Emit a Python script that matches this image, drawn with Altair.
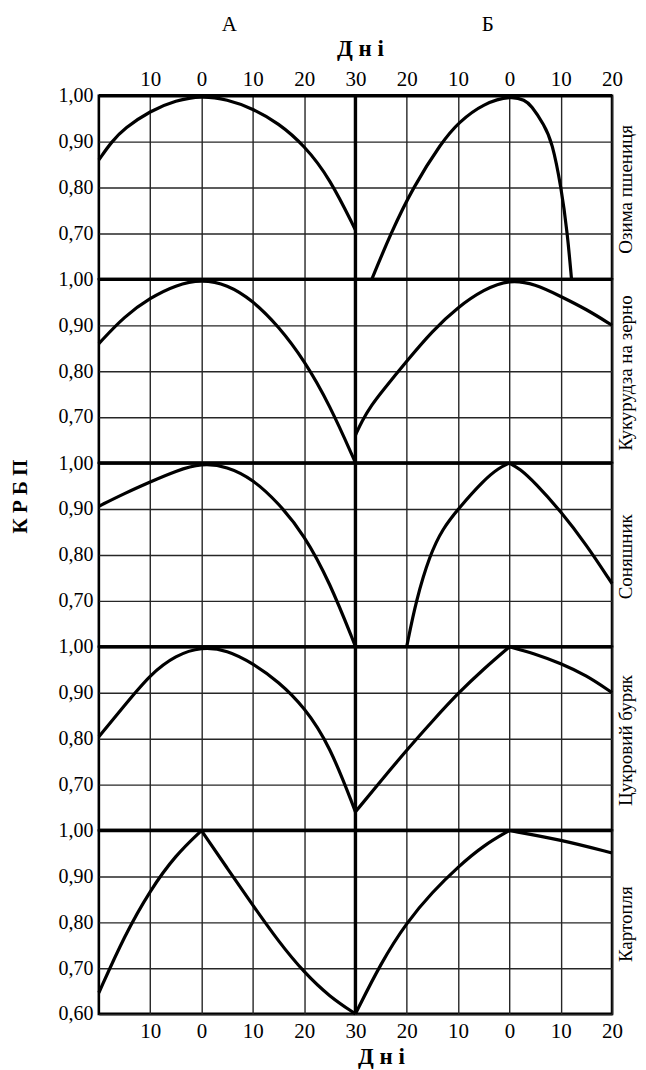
import altair as alt
import pandas as pd

# ---------------- data ----------------
CROPS = ["Озима пшениця", "Кукурудза на зерно", "Соняшник", "Цукровий буряк", "Картопля"]
SECTIONS = ["А", "Б"]

# x-axis ticks (position units) and their printed labels (days)
X_TICKS = [10, 20, 30, 40, 50, 60, 70, 80, 90, 100]
X_TICK_LABELS = ["10", "0", "10", "20", "30", "20", "10", "0", "10", "20"]

# section А: days relative to optimum (negative = earlier)
WHEAT_A_DAYS = [-20, -17.5, -15, -10, -5, 0, 5, 10, 15, 20, 25, 30]
WHEAT_A = [0.860, 0.900, 0.929, 0.967, 0.990, 1.000, 0.992, 0.972, 0.940, 0.892, 0.820, 0.707]
A_DAYS = [-20, -15, -10, -5, 0, 5, 10, 15, 20, 25, 30]
CORN_A = [0.860, 0.920, 0.960, 0.988, 1.000, 0.989, 0.954, 0.898, 0.824, 0.726, 0.600]
SUNFLOWER_A = [0.906, 0.934, 0.959, 0.983, 1.000, 0.993, 0.965, 0.913, 0.844, 0.740, 0.600]
BEET_A = [0.804, 0.872, 0.940, 0.982, 1.000, 0.993, 0.964, 0.924, 0.869, 0.785, 0.640]
POTATO_A = [0.646, 0.771, 0.870, 0.947, 1.000, 0.918, 0.837, 0.758, 0.690, 0.637, 0.600]

# section Б
WHEAT_B_DAYS = [-26.8, -23.1, -18.8, -13.1, -10, -5, 0.5, 3, 4.2, 6.8, 8.3, 10.1, 11.3, 12.1]
WHEAT_B = [0.60, 0.70, 0.80, 0.90, 0.941, 0.984, 1.00, 0.99, 0.98, 0.936, 0.90, 0.80, 0.70, 0.60]
CORN_B_DAYS = [-30, -28.8, -26.8, -24.8, -20, -15, -10, -5, 0, 5, 10, 15, 20]
CORN_B = [0.66, 0.69, 0.727, 0.756, 0.822, 0.888, 0.94, 0.978, 1.00, 0.99, 0.963, 0.935, 0.90]
SUNFLOWER_B_DAYS = [-20, -18.2, -15.5, -13, -10, -5, -2, 0, 2, 5, 10, 15, 20]
SUNFLOWER_B = [0.60, 0.70, 0.80, 0.857, 0.90, 0.963, 0.990, 1.00, 0.988, 0.957, 0.895, 0.822, 0.737]
BEET_B_DAYS = [-30, -25, -20, -15, -10, -5, 0, 5, 10, 15, 20]
BEET_B = [0.64, 0.708, 0.775, 0.838, 0.899, 0.952, 1.00, 0.985, 0.964, 0.938, 0.90]
POTATO_B_DAYS = [-30, -25, -20, -15, -10, -5, 0, 10, 20]
POTATO_B = [0.60, 0.712, 0.80, 0.866, 0.921, 0.968, 1.00, 0.98, 0.951]

# curves whose maximum is a corner
SHARP_PEAKS = [("Картопля", "А"), ("Цукровий буряк", "Б"), ("Картопля", "Б"), ("Соняшник", "Б")]

CURVES = [
    (CROPS[0], "А", WHEAT_A_DAYS, WHEAT_A), (CROPS[0], "Б", WHEAT_B_DAYS, WHEAT_B),
    (CROPS[1], "А", A_DAYS, CORN_A), (CROPS[1], "Б", CORN_B_DAYS, CORN_B),
    (CROPS[2], "А", A_DAYS, SUNFLOWER_A), (CROPS[2], "Б", SUNFLOWER_B_DAYS, SUNFLOWER_B),
    (CROPS[3], "А", A_DAYS, BEET_A), (CROPS[3], "Б", BEET_B_DAYS, BEET_B),
    (CROPS[4], "А", A_DAYS, POTATO_A), (CROPS[4], "Б", POTATO_B_DAYS, POTATO_B),
]

rows = []
for crop, sec, days, vals in CURVES:
    sharp = (crop, sec) in SHARP_PEAKS
    for d, v in zip(days, vals):
        if sharp and d == 0:
            rows.append(dict(crop=crop, section=sec, seg=sec + "1", day=d, value=v))
            rows.append(dict(crop=crop, section=sec, seg=sec + "2", day=d, value=v))
        else:
            seg = sec + ("2" if (sharp and d > 0) else "1")
            rows.append(dict(crop=crop, section=sec, seg=seg, day=d, value=v))
data = pd.DataFrame(rows)
names = pd.DataFrame({"crop": CROPS})
sections = pd.DataFrame({"section": SECTIONS})
one = pd.DataFrame({"k": [0]})

# ---------------- layout / style ----------------
W = 514
H = 183.6
FONT = "Liberation Serif"
label_expr_x = "[" + ",".join('"%s"' % s for s in X_TICK_LABELS) + "][round(datum.value / 10) - 1]"
label_expr_y = "replace(format(datum.value, '.2f'), '.', ',')"

xscale = alt.Scale(domain=[0, 100], nice=False, zero=False)
yscale = alt.Scale(domain=[0.6, 1.0], nice=False, zero=False)


def panel(i, crop):
    top = i == 0
    bottom = i == len(CROPS) - 1
    common_x = dict(values=X_TICKS, grid=True, ticks=False, domain=False,
                    gridColor="#262626", gridWidth=1.4, labelFont=FONT,
                    labelFontSize=21, labelColor="black", labelFlush=False,
                    titleFont=FONT, titleFontSize=23, titleFontWeight="bold",
                    titleColor="black")
    if top:
        xaxis = alt.Axis(orient="top", labelExpr=label_expr_x, labelPadding=6,
                         titlePadding=8, titleX=261.5, **common_x)
        xenc = alt.X("pos:Q", scale=xscale, axis=xaxis, title="Д н і")
    elif bottom:
        xaxis = alt.Axis(orient="bottom", labelExpr=label_expr_x, labelPadding=7,
                         titlePadding=4, titleX=282.5, **common_x)
        xenc = alt.X("pos:Q", scale=xscale, axis=xaxis, title="Д н і")
    else:
        xaxis = alt.Axis(labels=False, **common_x)
        xenc = alt.X("pos:Q", scale=xscale, axis=xaxis, title=None)

    yvals = [0.6, 0.7, 0.8, 0.9, 1.0] if bottom else [0.7, 0.8, 0.9, 1.0]
    common_y = dict(values=yvals, grid=True, ticks=False, domain=False,
                    gridColor="#262626", gridWidth=1.4, labelFont=FONT,
                    labelFontSize=20, labelColor="black", labelPadding=6,
                    labelExpr=label_expr_y, labelFlush=False)
    if i == 2:
        yaxis = alt.Axis(titleFont=FONT, titleFontSize=21, titleFontWeight="bold",
                         titleColor="black", titleX=-68, titleY=33, **common_y)
        yenc = alt.Y("value:Q", scale=yscale, axis=yaxis, title="К Р Б П")
    else:
        yaxis = alt.Axis(**common_y)
        yenc = alt.Y("value:Q", scale=yscale, axis=yaxis, title=None)

    base = alt.Chart(data).transform_filter(alt.datum.crop == crop).transform_calculate(
        pos="datum.section == 'А' ? datum.day + 20 : datum.day + 80"
    )
    lines = base.mark_line(color="black", strokeWidth=3.2, interpolate="basis").encode(
        x=xenc, y=yenc, detail="seg:N", order="day:Q"
    )
    vline = alt.Chart(one).mark_rule(color="black", strokeWidth=3.4).encode(
        x=alt.datum(50)
    )
    hline = alt.Chart(one).mark_rule(color="black", strokeWidth=3.4).encode(
        y=alt.datum(1.0)
    )
    name = alt.Chart(names).transform_filter(alt.datum.crop == crop).mark_text(
        angle=270, font=FONT, fontSize=19, color="black", align="center", baseline="middle"
    ).encode(x=alt.value(W + 14), y=alt.value(H / 2 + 2), text="crop:N")
    layers = [lines, vline, hline, name]
    if top:
        layers.append(
            alt.Chart(sections).transform_calculate(
                mid="datum.section == 'А' ? 25.4 : 75.8"
            ).mark_text(font=FONT, fontSize=21, color="black",
                        align="center", baseline="middle").encode(
                x=alt.X("mid:Q", scale=xscale), y=alt.value(-70.5), text="section:N"
            )
        )
    return alt.layer(*layers).properties(width=W, height=H)


chart = alt.vconcat(
    *[panel(i, c) for i, c in enumerate(CROPS)], spacing=0, bounds="flush"
).properties(
    padding={"left": 0, "top": 4, "right": 0, "bottom": 0}, background="white"
).configure_view(stroke="black", strokeWidth=2.6)

chart.save("out.html", embed_options={"renderer": "svg", "actions": False})
